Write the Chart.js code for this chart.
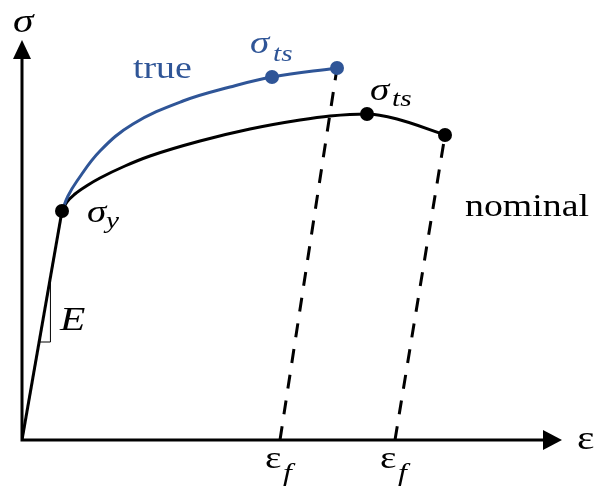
<!DOCTYPE html>
<html>
<head>
<meta charset="utf-8">
<script src="https://cdn.jsdelivr.net/npm/chart.js@4.4.0/dist/chart.umd.min.js"></script>
<style>
  html, body { margin: 0; padding: 0; background: #fff; }
  #wrap { width: 597px; height: 492px; }
</style>
</head>
<body>
<div id="wrap"><canvas id="chart" width="597" height="492"></canvas></div>
<script>
// stress-strain curves (strain, stress in arbitrary units)
const yieldPoint = [40, 229];
const nominalStrain = [40, 45, 53, 66, 78, 103, 128, 178, 228, 278, 308, 345, 375, 423];
const nominalStress = [229, 238, 246, 255, 262, 274, 284, 299, 311, 320, 324, 326, 321, 305];
const trueStrain = [40, 46, 55, 78, 111, 161, 208, 250, 315];
const trueStress = [229, 244, 259, 289, 316, 339, 353, 363, 372];
const nominalUtsIndex = 11;
const trueUtsIndex = 7;
// strain left after unloading from fracture
const fractureStrain = [258, 373];

const BLUE = '#2F5597';
const BLACK = '#000';
const SERIF = '"Liberation Serif", "Times New Roman", serif';
const SX = 1.22;

const pts = (xs, ys) => xs.map((x, i) => ({ x: x, y: ys[i] }));
const nominalPts = pts(nominalStrain, nominalStress);
const truePts = pts(trueStrain, trueStress);
const nominalEnd = nominalPts[nominalPts.length - 1];
const trueEnd = truePts[truePts.length - 1];

function drawText(ctx, str, x, y, font, color) {
  ctx.save();
  ctx.translate(x, y);
  ctx.scale(SX, 1);
  ctx.font = font;
  ctx.fillStyle = color;
  ctx.textAlign = 'left';
  ctx.textBaseline = 'alphabetic';
  ctx.fillText(str, 0, 0);
  ctx.restore();
}

const diagramPlugin = {
  id: 'diagram',
  beforeDatasetsDraw(chart) {
    const ctx = chart.ctx;
    const xs = chart.scales.x, ys = chart.scales.y;
    const ox = xs.getPixelForValue(0), oy = ys.getPixelForValue(0);
    const xTip = xs.getPixelForValue(xs.max), yTip = ys.getPixelForValue(ys.max);
    ctx.save();
    ctx.strokeStyle = BLACK;
    ctx.fillStyle = BLACK;
    ctx.lineWidth = 3;
    ctx.beginPath();
    ctx.moveTo(ox, yTip + 18);
    ctx.lineTo(ox, oy);
    ctx.lineTo(xTip - 18, oy);
    ctx.stroke();
    // arrow heads
    ctx.beginPath();
    ctx.moveTo(ox, yTip);
    ctx.lineTo(ox - 9, yTip + 19);
    ctx.lineTo(ox + 9, yTip + 19);
    ctx.closePath();
    ctx.fill();
    ctx.beginPath();
    ctx.moveTo(xTip, oy);
    ctx.lineTo(xTip - 19, oy - 10);
    ctx.lineTo(xTip - 19, oy + 10);
    ctx.closePath();
    ctx.fill();

    // slope triangle on the elastic line
    const lo = 98, hi = 157;
    const slope = yieldPoint[0] / yieldPoint[1];
    const lx = xs.getPixelForValue(lo * slope), ly = ys.getPixelForValue(lo);
    const hx = xs.getPixelForValue(hi * slope) + 1, hy = ys.getPixelForValue(hi);
    ctx.lineWidth = 1;
    ctx.beginPath();
    ctx.moveTo(lx, ly);
    ctx.lineTo(hx, ly);
    ctx.lineTo(hx, hy);
    ctx.stroke();
    ctx.restore();
  },
  afterDatasetsDraw(chart) {
    const ctx = chart.ctx;
    const xs = chart.scales.x, ys = chart.scales.y;
    const px = v => xs.getPixelForValue(v);
    const py = v => ys.getPixelForValue(v);
    const math = s => 'italic ' + s + 'px ' + SERIF;
    const upright = s => s + 'px ' + SERIF;

    // axis labels
    drawText(ctx, 'σ', px(0) - 9, py(ys.max) - 8, math(34), BLACK);
    drawText(ctx, 'ε', px(xs.max) + 15, py(0) + 9, upright(34), BLACK);

    // yield
    const yx = px(yieldPoint[0]), yy = py(yieldPoint[1]);
    drawText(ctx, 'σ', yx + 25, yy + 11, math(32), BLACK);
    drawText(ctx, 'y', yx + 44, yy + 17, math(24), BLACK);

    // tensile strength, nominal and true
    const nu = nominalPts[nominalUtsIndex];
    drawText(ctx, 'σ', px(nu.x) + 3, py(nu.y) - 14, math(32), BLACK);
    drawText(ctx, 'ts', px(nu.x) + 25, py(nu.y) - 8, math(24), BLACK);
    const tu = truePts[trueUtsIndex];
    drawText(ctx, 'σ', px(tu.x) - 22, py(tu.y) - 24, math(32), BLUE);
    drawText(ctx, 'ts', px(tu.x) + 1, py(tu.y) - 16, math(24), BLUE);

    // curve names
    drawText(ctx, 'true', px(111), py(362), upright(31), BLUE);
    drawText(ctx, 'nominal', px(443), py(224), upright(31), BLACK);

    // modulus
    drawText(ctx, 'E', px(38), py(110), math(34), BLACK);

    // fracture strains
    fractureStrain.forEach(e => {
      drawText(ctx, 'ε', px(e) - 15, py(0) + 28, upright(32), BLACK);
      drawText(ctx, 'f', px(e) + 3, py(0) + 41, math(26), BLACK);
    });
  }
};

new Chart(document.getElementById('chart'), {
  type: 'scatter',
  data: {
    datasets: [
      {
        data: [nominalPts[0], nominalPts[nominalUtsIndex], nominalEnd],
        pointRadius: 7, pointBackgroundColor: BLACK, pointBorderWidth: 0, showLine: false
      },
      {
        data: [truePts[trueUtsIndex], trueEnd],
        pointRadius: 7, pointBackgroundColor: BLUE, pointBorderWidth: 0, showLine: false
      },
      {
        data: truePts, showLine: true, borderColor: BLUE, borderWidth: 3,
        pointRadius: 0, tension: 0.4
      },
      {
        data: nominalPts, showLine: true, borderColor: BLACK, borderWidth: 3,
        pointRadius: 0, cubicInterpolationMode: 'monotone'
      },
      {
        data: [{ x: 0, y: 0 }, { x: yieldPoint[0], y: yieldPoint[1] }],
        showLine: true, borderColor: BLACK, borderWidth: 3, pointRadius: 0
      },
      {
        data: [{ x: fractureStrain[0], y: 0 }, trueEnd],
        showLine: true, borderColor: BLACK, borderWidth: 3, borderDash: [14, 12], pointRadius: 0
      },
      {
        data: [{ x: fractureStrain[1], y: 0 }, nominalEnd],
        showLine: true, borderColor: BLACK, borderWidth: 3, borderDash: [14, 12], pointRadius: 0
      }
    ]
  },
  options: {
    responsive: false,
    animation: false,
    devicePixelRatio: 1,
    layout: { padding: { left: 22, right: 35, top: 40, bottom: 52 } },
    plugins: { legend: { display: false }, tooltip: { enabled: false } },
    scales: {
      x: { type: 'linear', min: 0, max: 540, display: false },
      y: { type: 'linear', min: 0, max: 400, display: false }
    }
  },
  plugins: [diagramPlugin]
});
</script>
</body>
</html>
